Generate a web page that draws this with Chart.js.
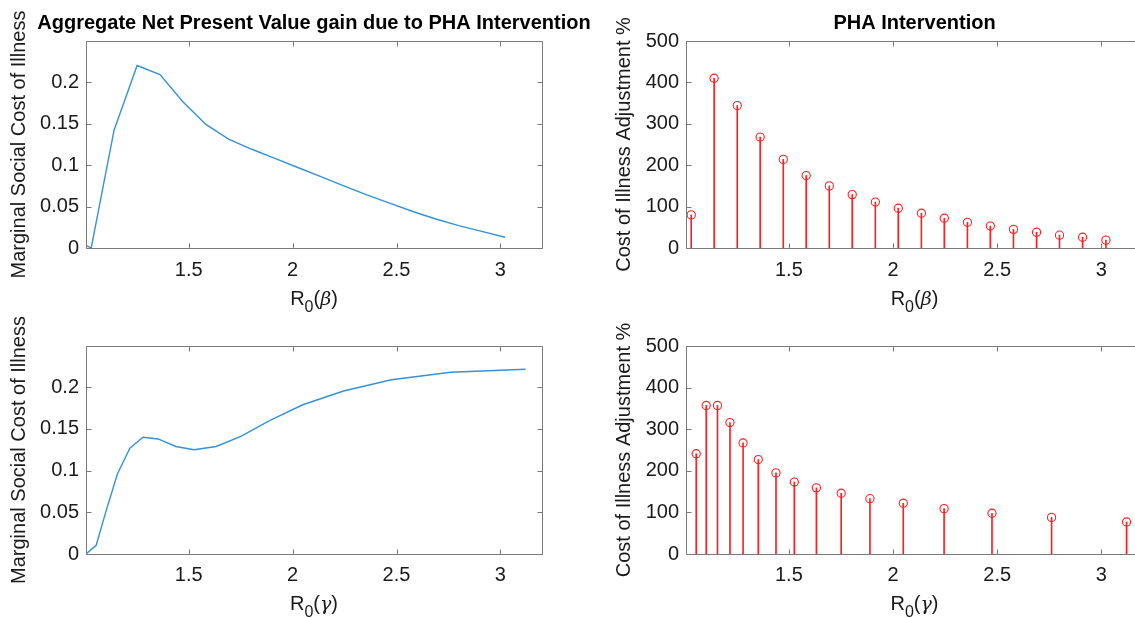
<!DOCTYPE html>
<html><head><meta charset="utf-8">
<script src="https://cdn.jsdelivr.net/npm/chart.js@4"></script>
<style>
html,body{margin:0;padding:0;background:#fff;width:1135px;height:618px;overflow:hidden;position:relative}
canvas{position:absolute}
</style></head><body>
<canvas id="c3" width="600" height="308" style="left:0;top:310px"></canvas>
<canvas id="c4" width="600" height="308" style="left:600px;top:310px"></canvas>
<canvas id="c1" width="600" height="320" style="left:0;top:0"></canvas>
<canvas id="c2" width="600" height="320" style="left:600px;top:0"></canvas>
<script>
// ---- data ----
const titles = ['Aggregate Net Present Value gain due to PHA Intervention', 'PHA Intervention'];
const yLabelMSC = 'Marginal Social Cost of Illness';
const yLabelAdj = 'Cost of Illness Adjustment %';
// x-axis labels: base letter, subscript, then "(symbol)"
const xLabelBeta = ['R', '0', '(', '\u03B2', ')'];
const xLabelGamma = ['R', '0', '(', '\u03B3', ')'];

const xTicks = [1.5, 2, 2.5, 3];
const xTickLabels = ['1.5', '2', '2.5', '3'];
const mscTicks = [0, 0.05, 0.1, 0.15, 0.2];
const mscTickLabels = ['0', '0.05', '0.1', '0.15', '0.2'];
const adjTicks = [0, 100, 200, 300, 400, 500];
const adjTickLabels = ['0', '100', '200', '300', '400', '500'];

// R0(beta) sweep
const r0Beta = [1.031, 1.141, 1.252, 1.362, 1.473, 1.583, 1.694, 1.804, 1.915, 2.025,
                2.136, 2.246, 2.357, 2.467, 2.578, 2.689, 2.799, 2.910, 3.022];
const lineR0Beta = [1.006, 1.031, 1.141, 1.252, 1.362, 1.473, 1.583, 1.694, 1.804, 1.915, 2.025,
                    2.136, 2.246, 2.357, 2.467, 2.578, 2.689, 2.799, 2.910, 3.022];
const mscBeta = [0.003, 0.000, 0.142, 0.220, 0.209, 0.176, 0.149, 0.131, 0.119, 0.108, 0.097,
                 0.086, 0.075, 0.064, 0.054, 0.044, 0.035, 0.027, 0.020, 0.013];
const adjBeta = [80, 410, 344, 268, 214, 175, 150, 129, 111, 96,
                 84, 72, 62, 53, 45, 38, 31, 26, 19];

// R0(gamma) sweep
const r0Gamma = [1.055, 1.103, 1.157, 1.217, 1.280, 1.353, 1.438, 1.526, 1.632, 1.751,
                 1.889, 2.049, 2.245, 2.475, 2.761, 3.121];
const lineR0Gamma = [1.006, 1.055, 1.103, 1.157, 1.217, 1.280, 1.353, 1.438, 1.526, 1.632, 1.751,
                     1.889, 2.049, 2.245, 2.475, 2.761, 3.121];
const mscGamma = [0.000, 0.0105, 0.052, 0.096, 0.127, 0.140, 0.138, 0.129, 0.125, 0.129, 0.141,
                  0.160, 0.179, 0.1955, 0.209, 0.218, 0.2216];
const adjGamma = [241, 357, 357, 316, 267, 227, 195, 173, 159, 146,
                  133, 122, 109, 98, 88, 77];

const X_MIN = 1.006, X_MAX = 3.2;
const MSC_MAX = 0.2495, ADJ_MAX = 500;

// ---- styling ----
const FONT = "'Liberation Sans', Arial, Helvetica, sans-serif";
const SYMFONT = "'DejaVu Serif', 'Liberation Serif', serif";
const TXT = '#1a1a1a';
const BOX = '#7a7a7a';
const BLUE = '#3592d8';
const RED = '#ff1f1f';

const pts = (xs, ys) => xs.map((x, i) => ({x: x, y: ys[i]}));

function drawXLabel(ctx, parts, cx, baseline) {
  // parts: [base, subscript, '(', symbol, ')']
  const styles = [
    {font: '20px ' + FONT, dy: 0},
    {font: '16px ' + FONT, dy: 6.5},
    {font: '20px ' + FONT, dy: 0},
    {font: 'italic 19px ' + SYMFONT, dy: 0},
    {font: '20px ' + FONT, dy: 0}
  ];
  let total = 0;
  const widths = parts.map((p, i) => { ctx.font = styles[i].font; const w = ctx.measureText(p).width; total += w; return w; });
  let x = cx - total / 2;
  ctx.textAlign = 'left';
  ctx.textBaseline = 'alphabetic';
  ctx.fillStyle = TXT;
  parts.forEach((p, i) => {
    ctx.font = styles[i].font;
    ctx.fillText(p, x, baseline + styles[i].dy);
    x += widths[i];
  });
}

const matlabAxes = {
  id: 'matlabAxes',
  afterDatasetsDraw(chart, args, opts) {
    const {ctx, chartArea: a, scales} = chart;
    ctx.save();
    ctx.strokeStyle = BOX;
    ctx.lineWidth = 1;
    const L = Math.round(a.left) + 0.5, R = Math.round(a.right) + 0.5;
    const T = Math.round(a.top) + 0.5, B = Math.round(a.bottom) + 0.5;
    ctx.beginPath();
    ctx.rect(L, T, R - L, B - T);
    const tl = 5;
    scales.x.ticks.forEach(t => {
      const px = Math.round(scales.x.getPixelForValue(t.value)) + 0.5;
      ctx.moveTo(px, B); ctx.lineTo(px, B - tl);
      ctx.moveTo(px, T); ctx.lineTo(px, T + tl);
    });
    scales.y.ticks.forEach(t => {
      const py = Math.round(scales.y.getPixelForValue(t.value)) + 0.5;
      ctx.moveTo(L, py); ctx.lineTo(L + tl, py);
      ctx.moveTo(R, py); ctx.lineTo(R - tl, py);
    });
    ctx.stroke();
    const cx = (a.left + a.right) / 2;
    if (opts.title) {
      ctx.fillStyle = '#000';
      ctx.font = 'bold 20px ' + FONT;
      ctx.textAlign = 'center';
      ctx.textBaseline = 'alphabetic';
      ctx.fillText(opts.title, cx, opts.titleY);
    }
    if (opts.xLabel) drawXLabel(ctx, opts.xLabel, cx, a.bottom + opts.xLabelDy);
    ctx.restore();
  }
};

function xScale(h, tickPad) {
  return {
    type: 'linear', min: X_MIN, max: X_MAX, bounds: 'data', offset: false,
    grid: {display: false, drawTicks: false, offset: false}, border: {display: false},
    ticks: {color: TXT, font: {family: FONT, size: 20}, padding: tickPad, maxRotation: 0, autoSkip: false,
            callback: (v) => xTickLabels[xTicks.indexOf(v)]},
    afterBuildTicks: s => { s.ticks = xTicks.map(v => ({value: v})); },
    afterFit: s => { s.height = h; },
    title: {display: false}
  };
}
function yScale(label, max, ticks, labels, titlePad) {
  return {
    type: 'linear', min: 0, max: max, bounds: 'data',
    grid: {display: false, drawTicks: false}, border: {display: false},
    ticks: {color: TXT, font: {family: FONT, size: 20}, padding: 7,
            callback: (v) => labels[ticks.indexOf(v)]},
    afterBuildTicks: s => { s.ticks = ticks.map(v => ({value: v})); },
    afterFit: s => { s.width = 86; },
    title: {display: true, text: label, color: TXT, font: {family: FONT, size: 20}, padding: {top: titlePad, bottom: 0}}
  };
}
function baseOpts(padTop, padRight, padBottom, x, y, title, xLabel, xLabelDy) {
  return {
    responsive: false, animation: false, devicePixelRatio: 1,
    layout: {padding: {top: padTop, right: padRight, bottom: padBottom, left: 0}},
    plugins: {legend: {display: false}, tooltip: {enabled: false},
              matlabAxes: {title: title, titleY: 28.5, xLabel: xLabel, xLabelDy: xLabelDy}},
    scales: {x: x, y: y}
  };
}
function lineChart(id, xs, ys, padTop, padBottom, xLabel, xh, tickPad, xLabelDy, title) {
  new Chart(document.getElementById(id), {
    type: 'line',
    data: {datasets: [{data: pts(xs, ys), borderColor: BLUE, borderWidth: 1.4, pointRadius: 0, tension: 0, fill: false}]},
    options: baseOpts(padTop, 58, padBottom, xScale(xh, tickPad),
                      yScale(yLabelMSC, MSC_MAX, mscTicks, mscTickLabels, 7), title, xLabel, xLabelDy),
    plugins: [matlabAxes]
  });
}
function stemChart(id, xs, ys, padTop, padBottom, xLabel, xh, tickPad, xLabelDy, title) {
  new Chart(document.getElementById(id), {
    type: 'bar',
    data: {datasets: [
      {type: 'bar', data: pts(xs, ys), backgroundColor: RED, barThickness: 1, borderWidth: 0, grouped: false},
      {type: 'line', data: pts(xs, ys), showLine: false, pointStyle: 'circle', pointRadius: 4.1,
       pointBorderWidth: 1.1, pointBorderColor: RED, pointBackgroundColor: 'rgba(0,0,0,0)'}
    ]},
    options: baseOpts(padTop, 57, padBottom, xScale(xh, tickPad),
                      yScale(yLabelAdj, ADJ_MAX, adjTicks, adjTickLabels, 12), title, xLabel, xLabelDy),
    plugins: [matlabAxes]
  });
}

lineChart('c3', lineR0Gamma, mscGamma, 36, 0, xLabelGamma, 64, 9.5, 56, null);
stemChart('c4', r0Gamma, adjGamma, 36, 0, xLabelGamma, 64, 9.5, 56, null);
lineChart('c1', lineR0Beta, mscBeta, 41, 10, xLabelBeta, 62, 10.5, 57, titles[0]);
stemChart('c2', r0Beta, adjBeta, 41, 10, xLabelBeta, 62, 10.5, 57, titles[1]);
</script>
</body></html>
